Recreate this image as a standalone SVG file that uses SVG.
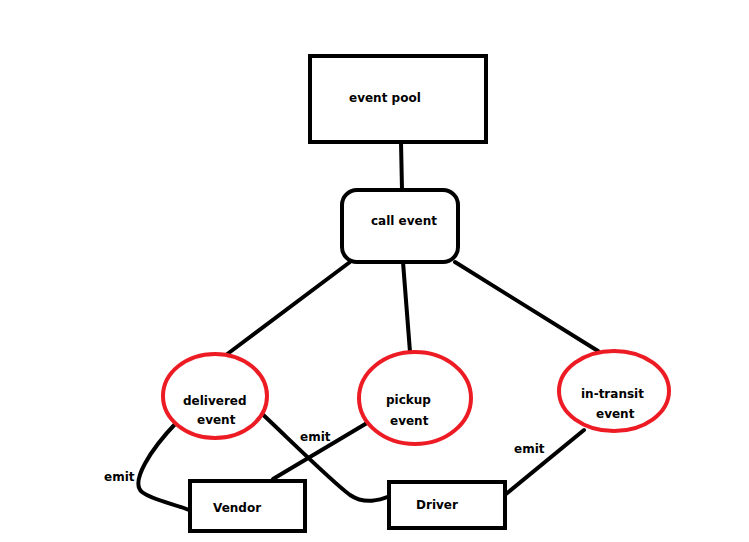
<svg xmlns="http://www.w3.org/2000/svg" width="749" height="542" viewBox="0 0 749 542">
<style>
.box{fill:#fff;stroke:#000;stroke-width:4}
.ev{fill:#fff;stroke:#ed1c24;stroke-width:4}
.c{fill:none;stroke:#000;stroke-width:4;stroke-linecap:round}
text{font-family:"DejaVu Sans","Liberation Sans",sans-serif;font-weight:bold;font-size:12px;fill:#000}
</style>
<rect width="749" height="542" fill="#fff"/>
<g id="connectors">
<path class="c" d="M401,142 L402,190"/>
<path class="c" d="M350,262 L226,355"/>
<path class="c" d="M403,262 L410,352"/>
<path class="c" d="M455,262 L598,351"/>
<path class="c" d="M177,422 C150,450 130,482 142,492 C152,500 175,504 189,510"/>
<path class="c" d="M258,410 C285,435 330,480 350,495 C365,505 380,500 390,496"/>
<path class="c" d="M367,423 L273,479"/>
<path class="c" d="M506,494 L584,430"/>
<text x="104" y="481">emit</text>
<text x="300" y="441">emit</text>
<text x="514" y="453">emit</text>
</g>
<g id="event-pool">
<rect class="box" x="310" y="56" width="176" height="86"/>
<text x="349" y="102">event pool</text>
</g>
<g id="call-event">
<rect class="box" x="342" y="190" width="116" height="72" rx="15"/>
<text x="371" y="225">call event</text>
</g>
<g id="delivered-event">
<ellipse class="ev" cx="215" cy="396" rx="52" ry="42"/>
<text x="183" y="405">delivered</text>
<text x="197" y="424">event</text>
</g>
<g id="pickup-event">
<ellipse class="ev" cx="415" cy="398" rx="56" ry="46"/>
<text x="386" y="404">pickup</text>
<text x="390" y="425">event</text>
</g>
<g id="in-transit-event">
<ellipse class="ev" cx="614" cy="391" rx="55" ry="40"/>
<text x="581" y="398">in-transit</text>
<text x="596" y="418">event</text>
</g>
<g id="vendor">
<rect class="box" x="190" y="481" width="115" height="50"/>
<text x="213" y="512">Vendor</text>
</g>
<g id="driver">
<rect class="box" x="389" y="482" width="116" height="46"/>
<text x="416" y="509">Driver</text>
</g>
</svg>
